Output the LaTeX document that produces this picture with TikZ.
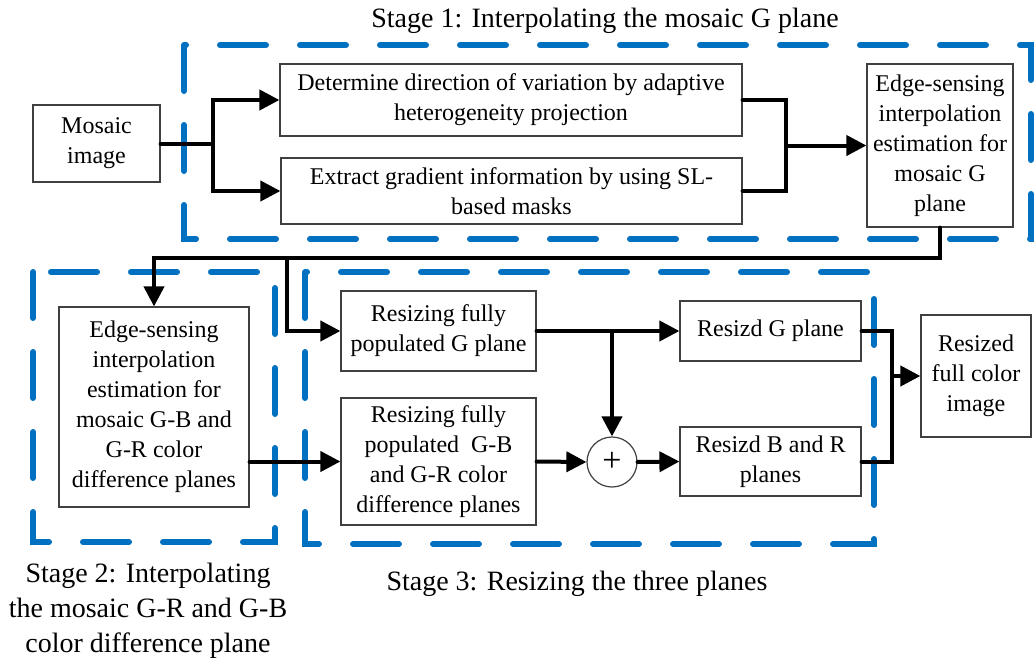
\documentclass[tikz,border=0pt]{standalone}
\usepackage{fontspec}
\setmainfont{Liberation Serif}
\usetikzlibrary{arrows.meta}
\definecolor{stageblue}{RGB}{0,112,192}
\begin{document}
\begin{tikzpicture}[x=1pt,y=-1pt,
  box/.style={draw=black!75, line width=1.2pt, inner sep=0pt, align=center, font=\fontsize{24}{30}\selectfont},
  conn/.style={line width=4pt, black, line cap=round},
  arr/.style={conn, -{Triangle[length=20pt,width=20pt]}},
  stagebox/.style={stageblue, line width=6pt, line cap=round, dash pattern=on 46pt off 34pt},
  lbl/.style={font=\fontsize{28}{35}\selectfont, align=center, inner sep=0pt}]
\useasboundingbox (0,0) rectangle (1034,667);
\fill[white] (0,0) rectangle (1034,667);

% stage frames
\draw[stagebox] (184,45) rectangle (1031,239);
\draw[stagebox] (33,272) rectangle (275,542);
\draw[stagebox] (305,272) rectangle (874,544);

% labels
\node[lbl, anchor=base] (s1) at (605,27) {Stage 1: Interpolating the mosaic G plane};
\node[lbl] (s2) at (148,611) {Stage 2: Interpolating\\the mosaic G-R and G-B\\color difference plane};
\node[lbl, anchor=base] (s3) at (577,590) {Stage 3: Resizing the three planes};

% boxes
\node[box, minimum width=127, minimum height=77] (mosaic) at (96.5,143.5) {Mosaic\\image};
\node[box, minimum width=462, minimum height=72] (det) at (511,100) {Determine direction of variation by adaptive\\heterogeneity projection};
\node[box, minimum width=461, minimum height=66] (ext) at (511.5,191) {Extract gradient information by using SL-\\based masks};
\node[box, minimum width=146, minimum height=163] (edge1) at (940,145.5) {Edge-sensing\\interpolation\\estimation for\\mosaic G\\plane};
\node[box, minimum width=190, minimum height=200] (edge2) at (154,407) {Edge-sensing\\interpolation\\estimation for\\mosaic G-B and\\G-R color\\difference planes};
\node[box, minimum width=195, minimum height=80] (rg) at (438.5,331) {Resizing fully\\populated G plane};
\node[box, minimum width=195, minimum height=127] (rgb) at (438.5,461.5) {Resizing fully\\populated\ \ G-B\\and G-R color\\difference planes};
\node[box, circle, minimum size=50] (plus) at (612,462) {\fontsize{34}{34}\selectfont +};
\node[box, minimum width=181, minimum height=60] (resg) at (770.5,331) {Resizd G plane};
\node[box, minimum width=181, minimum height=69] (resbr) at (770.5,461.5) {Resizd B and R\\planes};
\node[box, minimum width=110, minimum height=122] (full) at (976,376) {Resized\\full color\\image};

% junctions
\coordinate (j1) at (213,143.5);
\coordinate (j2) at (786,145.5);
\coordinate (t1) at (287,258);
\coordinate (j3) at (612,331);
\coordinate (j4) at (892,376);

% connectors
\draw[conn] (mosaic.east) -- (j1);
\draw[arr] (j1) |- (det.west);
\draw[arr] (j1) |- (ext.west);
\draw[conn] (det.east) -| (j2);
\draw[conn] (ext.east) -| (j2);
\draw[arr] (j2) -- (edge1.west);
\draw[arr] (edge1.south) |- (t1) -| (edge2.north);
\draw[arr] (t1) |- (rg.west);
\draw[arr] (edge2.east |- rgb.west) -- (rgb.west);
\draw[arr] (rg.east) -- (resg.west);
\draw[arr] (j3) -- (plus.north);
\draw[arr] (rgb.east) -- (plus.west);
\draw[arr] (plus.east) -- (resbr.west);
\draw[conn] (resg.east) -| (j4);
\draw[conn] (resbr.east) -| (j4);
\draw[arr] (j4) -- (full.west);
\end{tikzpicture}
\end{document}
